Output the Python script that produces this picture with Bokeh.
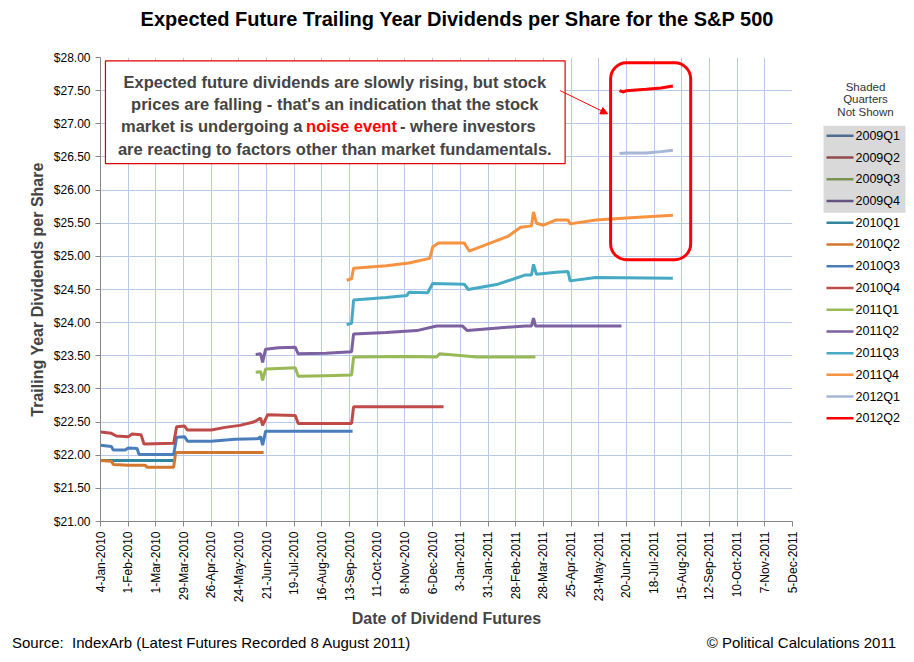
import pandas as pd
from bokeh.plotting import figure
from bokeh.models import (Range1d, FixedTicker, NumeralTickFormatter, Label, BoxAnnotation,
                          Arrow, NormalHead, Div)
from bokeh.layouts import column, row
from bokeh.embed import file_html
from bokeh.resources import INLINE

ORIGIN = pd.Timestamp("2010-01-04")

# ---------------------------------------------------------------- data
quarters = ["2009Q1", "2009Q2", "2009Q3", "2009Q4", "2010Q1", "2010Q2", "2010Q3",
            "2010Q4", "2011Q1", "2011Q2", "2011Q3", "2011Q4", "2012Q1", "2012Q2"]
colors = ["#4F6D8F", "#8E4B4A", "#7A9350", "#65547F", "#31859C", "#D2772D", "#4A7EBB",
          "#BE4B48", "#98B954", "#7D60A0", "#46AAC5", "#F69240", "#A6B6D7", "#FF0000"]
shaded_count = 4

q2010q1_dates = ["2010-01-04", "2010-02-15", "2010-03-19"]
q2010q1_vals = [21.92, 21.92, 21.92]

q2010q2_dates = ["2010-01-04", "2010-01-15", "2010-01-17", "2010-02-01", "2010-02-18", "2010-02-20",
                 "2010-03-19", "2010-03-21", "2010-05-01", "2010-06-18"]
q2010q2_vals = [21.92, 21.91, 21.86, 21.85, 21.85, 21.82, 21.82, 22.04, 22.04, 22.04]

q2010q3_dates = ["2010-01-04", "2010-01-15", "2010-01-17", "2010-01-29", "2010-02-01", "2010-02-10",
                 "2010-02-12", "2010-03-19", "2010-03-22", "2010-03-30", "2010-04-02", "2010-04-26",
                 "2010-05-20", "2010-06-12", "2010-06-15", "2010-06-17", "2010-06-20", "2010-09-16"]
q2010q3_vals = [22.15, 22.13, 22.08, 22.08, 22.11, 22.10, 22.01, 22.01, 22.27, 22.28, 22.21, 22.21,
                22.24, 22.25, 22.28, 22.15, 22.36, 22.36]

q2010q4_dates = ["2010-01-04", "2010-01-15", "2010-01-20", "2010-02-01", "2010-02-05", "2010-02-14",
                 "2010-02-17", "2010-03-19", "2010-03-22", "2010-03-30", "2010-04-02", "2010-04-26",
                 "2010-05-10", "2010-05-25", "2010-06-08", "2010-06-15", "2010-06-17", "2010-06-22",
                 "2010-07-20", "2010-07-23", "2010-09-15", "2010-09-17", "2010-12-17"]
q2010q4_vals = [22.35, 22.33, 22.29, 22.28, 22.32, 22.31, 22.17, 22.18, 22.43, 22.44, 22.38, 22.38,
                22.42, 22.45, 22.5, 22.56, 22.45, 22.61, 22.60, 22.48, 22.48, 22.73, 22.73]

q2011q1_dates = ["2010-06-10", "2010-06-15", "2010-06-17", "2010-06-20", "2010-07-03", "2010-07-20",
                 "2010-07-23", "2010-08-20", "2010-09-15", "2010-09-17", "2010-11-10", "2010-12-10",
                 "2010-12-13", "2011-01-20", "2011-03-20"]
q2011q1_vals = [23.25, 23.26, 23.13, 23.30, 23.31, 23.32, 23.19, 23.20, 23.21, 23.48, 23.49, 23.48,
                23.53, 23.48, 23.48]

q2011q2_dates = ["2010-06-10", "2010-06-15", "2010-06-17", "2010-06-20", "2010-07-03", "2010-07-20",
                 "2010-07-23", "2010-08-20", "2010-09-15", "2010-09-17", "2010-10-20", "2010-11-20",
                 "2010-12-10", "2011-01-05", "2011-01-10", "2011-02-10", "2011-03-10", "2011-03-16",
                 "2011-03-18", "2011-03-20", "2011-06-15"]
q2011q2_vals = [23.52, 23.53, 23.40, 23.60, 23.62, 23.63, 23.53, 23.54, 23.56, 23.83, 23.85, 23.88,
                23.95, 23.95, 23.88, 23.92, 23.95, 23.95, 24.07, 23.95, 23.95]

q2011q3_dates = ["2010-09-10", "2010-09-15", "2010-09-17", "2010-10-20", "2010-11-10", "2010-11-12",
                 "2010-12-01", "2010-12-06", "2011-01-07", "2011-01-11", "2011-02-10", "2011-03-10",
                 "2011-03-16", "2011-03-18", "2011-03-21", "2011-04-10", "2011-04-22", "2011-04-24",
                 "2011-05-20", "2011-08-06"]
q2011q3_vals = [23.97, 23.99, 24.34, 24.38, 24.41, 24.46, 24.45, 24.59, 24.58, 24.50, 24.58, 24.72,
                24.72, 24.88, 24.73, 24.76, 24.77, 24.63, 24.68, 24.67]

q2011q4_dates = ["2010-09-10", "2010-09-15", "2010-09-17", "2010-10-20", "2010-11-12", "2010-12-03",
                 "2010-12-06", "2010-12-12", "2011-01-07", "2011-01-12", "2011-02-20", "2011-03-05",
                 "2011-03-16", "2011-03-18", "2011-03-21", "2011-03-28", "2011-04-10", "2011-04-22",
                 "2011-04-24", "2011-05-20", "2011-06-20", "2011-08-06"]
q2011q4_vals = [24.64, 24.66, 24.82, 24.86, 24.90, 24.97, 25.14, 25.20, 25.20, 25.08, 25.30, 25.44,
                25.46, 25.67, 25.50, 25.47, 25.55, 25.55, 25.49, 25.55, 25.58, 25.62]

q2012q1_dates = ["2011-06-13", "2011-06-20", "2011-07-10", "2011-07-25", "2011-08-06"]
q2012q1_vals = [26.55, 26.56, 26.56, 26.58, 26.60]

q2012q2_dates = ["2011-06-13", "2011-06-17", "2011-06-20", "2011-07-10", "2011-07-25", "2011-08-06"]
q2012q2_vals = [27.50, 27.48, 27.50, 27.52, 27.54, 27.57]

series = {
    "2010Q1": (q2010q1_dates, q2010q1_vals), "2010Q2": (q2010q2_dates, q2010q2_vals),
    "2010Q3": (q2010q3_dates, q2010q3_vals), "2010Q4": (q2010q4_dates, q2010q4_vals),
    "2011Q1": (q2011q1_dates, q2011q1_vals), "2011Q2": (q2011q2_dates, q2011q2_vals),
    "2011Q3": (q2011q3_dates, q2011q3_vals), "2011Q4": (q2011q4_dates, q2011q4_vals),
    "2012Q1": (q2012q1_dates, q2012q1_vals), "2012Q2": (q2012q2_dates, q2012q2_vals),
}

tick_dates = pd.date_range("2010-01-04", "2011-12-05", freq="28D")
tick_labels = [f"{d.day}-{d.strftime('%b-%Y')}" for d in tick_dates]
y_ticks = [21 + 0.5 * i for i in range(15)]


def days(ds):
    return [(pd.Timestamp(d) - ORIGIN).days for d in ds]


tick_pos = days(tick_dates)
FONT = "Liberation Sans"

# ---------------------------------------------------------------- main figure
p = figure(width=808, height=598, output_backend="svg", toolbar_location=None,
           x_range=Range1d(0, 700), y_range=Range1d(21, 28),
           min_border_left=100, min_border_right=16, min_border_top=21, min_border_bottom=113)
p.outline_line_color = None

p.xaxis.ticker = FixedTicker(ticks=tick_pos)
p.xaxis.major_label_overrides = {t: l for t, l in zip(tick_pos, tick_labels)}
p.xaxis.major_label_orientation = 1.5708
p.yaxis.ticker = FixedTicker(ticks=y_ticks)
p.yaxis.formatter = NumeralTickFormatter(format="$0.00")
for ax in (p.xaxis, p.yaxis):
    ax.major_label_text_font = FONT
    ax.major_label_text_font_size = "12px"
    ax.major_label_text_color = "black"
    ax.axis_line_color = "#868686"
    ax.major_tick_line_color = "#868686"
    ax.major_tick_out = 5
    ax.major_tick_in = 0
    ax.minor_tick_line_color = None
    ax.axis_label_text_font = FONT
    ax.axis_label_text_font_style = "bold"
    ax.axis_label_text_font_size = "16px"
p.xaxis.axis_label = "Date of Dividend Futures"
p.yaxis.axis_label = "Trailing Year Dividends per Share"
p.grid.grid_line_color = "#B9C9EA"

for q, c in zip(quarters, colors):
    if q in series:
        d, v = series[q]
        p.line(days(d), v, color=c, line_width=3)

# annotation box
p.add_layout(BoxAnnotation(left=5, right=470, top=27.95, bottom=26.40, fill_color="white",
                           fill_alpha=1, line_color="#E00000", line_alpha=1, line_width=1.2))
note_kw = dict(text_font=FONT, text_font_style="bold", text_font_size="16.5px",
               text_baseline="middle")
p.add_layout(Label(x=237, y=27.63, text="Expected future dividends are slowly rising, but stock",
                   text_align="center", **note_kw))
p.add_layout(Label(x=237, y=27.30, text="prices are falling - that's an indication that the stock",
                   text_align="center", **note_kw))
p.add_layout(Label(x=209, y=26.96, text="market is undergoing a ", text_align="right", **note_kw))
p.add_layout(Label(x=208, y=26.96, text="noise event", text_align="left", text_color="#FF0000", **note_kw))
p.add_layout(Label(x=303, y=26.96, text=" - where investors", text_align="left", **note_kw))
p.add_layout(Label(x=237, y=26.62, text="are reacting to factors other than market fundamentals.",
                   text_align="center", **note_kw))

p.add_layout(BoxAnnotation(left=516, right=597, top=27.92, bottom=24.95, fill_alpha=0,
                           line_color="#FF0000", line_alpha=1, line_width=3, border_radius=16))
p.add_layout(Arrow(x_start=465, y_start=27.5, x_end=513, y_end=27.15, line_color="#FF0000",
                   line_width=1, end=NormalHead(size=7, fill_color="#FF0000", line_color="#FF0000")))

# ---------------------------------------------------------------- legend panel
lg = figure(width=98, height=598, output_backend="svg", toolbar_location=None,
            x_range=Range1d(0, 98), y_range=Range1d(598, 0),
            min_border=0, x_axis_type=None, y_axis_type=None)
lg.outline_line_color = None
lg.grid.visible = False

row_y = [101 + 28 * i for i in range(len(quarters))]
lg.quad(left=15, right=97, top=row_y[0] - 13, bottom=row_y[shaded_count - 1] + 15,
        fill_color="#D9D9D9", line_color=None)
lg.segment(x0=[18] * len(quarters), x1=[45] * len(quarters), y0=row_y, y1=row_y,
           line_color=colors, line_width=2.5)
lg.text(x=[47] * len(quarters), y=row_y, text=quarters, text_font_size="12.5px",
        text_baseline="middle", text_font={"value": FONT})
header = ["Shaded", "Quarters", "Not Shown"]
lg.text(x=[57] * 3, y=[38 + 16 * i for i in range(3)], text=header, text_font_size="11.5px",
        text_baseline="middle", text_align="center", text_color="#333333",
        text_font={"value": FONT})

title = Div(text="<div style='width:914px;text-align:center;font:bold 20px Liberation Sans;padding-top:8px'>"
                 "Expected Future Trailing Year Dividends per Share for the S&amp;P 500</div>",
            width=906, height=36, margin=0)
footer = Div(text="<div style='display:flex;justify-content:space-between;font:15px Liberation Sans;"
                  "width:896px;padding-left:12px'>"
                  "<span>Source:&nbsp; IndexArb (Latest Futures Recorded 8 August 2011)</span>"
                  "<span>© Political Calculations 2011</span></div>",
             width=906, height=20, margin=0)

layout = column(title, row(p, lg, spacing=0), footer, spacing=0)
open("out.html", "w").write(file_html(layout, INLINE))
